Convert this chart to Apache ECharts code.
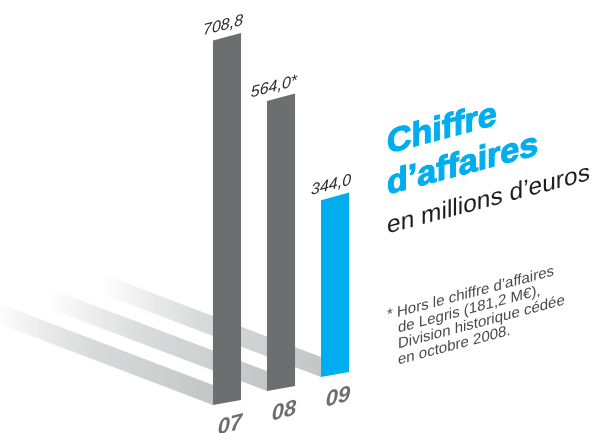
<!DOCTYPE html>
<html><head><meta charset="utf-8">
<script src="https://cdn.jsdelivr.net/npm/echarts@6/dist/echarts.min.js"></script>
<style>html,body{margin:0;padding:0;background:#fff}#c{width:598px;height:433px}</style>
</head><body><div id="c"></div>
<script>
const categories = ['07', '08', '09'];
const values = [708.8, 564.0, 344.0];
const valueLabels = ['708,8', '564,0*', '344,0'];
const titleLines = ['Chiffre', 'd\u2019affaires'];
const subtitle = 'en millions d\u2019euros';
const noteLines = ['* Hors le chiffre d\u2019affaires', 'de Legris (181,2 M\u20ac),', 'Division historique c\u00e9d\u00e9e', 'en octobre 2008.'];

const GRAY = '#6d6e70', BLUE = '#00aeef';
const barColors = [GRAY, GRAY, BLUE];
const SKEW = Math.atan(0.265);
const FLOOR_STEP = 14;
const TOP_SLOPE = 0.27, BOTTOM_SLOPE = 0.18, BAND_SLOPE = 0.38, BAND_H = 20, BAND_LEN = 220;
const FONT = '"Liberation Sans", Arial, sans-serif';
const BASE_K = 0.17; // middle-to-baseline offset (em)

function geom(api) {
  const i = api.value(0), v = api.value(1);
  const base = api.coord([i, 0]), top = api.coord([i, v]);
  const bw = api.size([1, 0])[0] * 0.52;
  const x0 = base[0] - bw / 2, x1 = base[0] + bw / 2;
  const f = FLOOR_STEP * i;
  const yb0 = base[1] - f, yb1 = yb0 - bw * BOTTOM_SLOPE;
  const yt0 = top[1] - f, yt1 = yt0 - bw * TOP_SLOPE;
  return { i, x0, x1, yb0, yb1, yt0, yt1, cx: base[0] };
}

function skewText(text, x, baseline, size, weight, color, extra) {
  return {
    type: 'text', x: x, y: baseline - BASE_K * size, skewY: SKEW,
    style: Object.assign({ text: text, font: weight + ' ' + size + 'px ' + FONT, fill: color, textAlign: 'left', textVerticalAlign: 'middle' }, extra || {})
  };
}

const data = values.map((v, i) => [i, v]);
const chart = echarts.init(document.getElementById('c'), null, { renderer: 'canvas' });
chart.setOption({
  animation: false,
  grid: { left: 200, width: 162, top: 4, bottom: 28 },
  xAxis: { type: 'category', data: categories, show: false },
  yAxis: { type: 'value', min: 0, max: 780, show: false },
  series: [
    {
      type: 'custom', clip: false, silent: true, z: 1,
      data: data,
      renderItem: function (params, api) {
        const g = geom(api);
        const L = BAND_LEN;
        return {
          type: 'polygon',
          shape: { points: [[g.x0, g.yb0], [g.x0, g.yb0 - BAND_H], [g.x0 - L, g.yb0 - BAND_H - BAND_SLOPE * L], [g.x0 - L, g.yb0 - BAND_SLOPE * L]] },
          style: {
            fill: {
              type: 'linear', x: g.x0 - L, y: 0, x2: g.x0, y2: 0, global: true,
              colorStops: [
                { offset: 0, color: 'rgba(208,209,211,0)' },
                { offset: 0.45, color: 'rgba(210,211,213,0.85)' },
                { offset: 1, color: '#c4c5c7' }
              ]
            }
          }
        };
      }
    },
    {
      type: 'custom', clip: false, silent: true, z: 2,
      data: data,
      renderItem: function (params, api) {
        const g = geom(api);
        return {
          type: 'group',
          children: [
            {
              type: 'polygon',
              shape: { points: [[g.x0, g.yt0], [g.x1, g.yt1], [g.x1, g.yb1], [g.x0, g.yb0]] },
              style: { fill: barColors[g.i] }
            },
            {
              type: 'text', x: g.x1 + 2, y: g.yt1 - 10 - BASE_K * 16, skewY: SKEW,
              style: { text: valueLabels[g.i], font: 'italic 16px ' + FONT, fill: '#2b2b2b', textAlign: 'right', textVerticalAlign: 'middle' }
            },
            {
              type: 'text', x: g.cx + 3, y: (g.yb0 + g.yb1) / 2 + 23, skewY: SKEW,
              style: { text: categories[g.i], font: 'italic bold 22px ' + FONT, fill: GRAY, textAlign: 'center', textVerticalAlign: 'middle' }
            }
          ]
        };
      }
    }
  ],
  graphic: [
    skewText(titleLines[0], 387, 150, 34, 'bold', BLUE, { stroke: BLUE, lineWidth: 1.2 }),
    skewText(titleLines[1], 387, 191, 34, 'bold', BLUE, { stroke: BLUE, lineWidth: 1.2 }),
    skewText(subtitle, 387, 231, 24.5, 'normal', '#1e1e1e'),
    skewText(noteLines[0], 387, 318, 15, 'normal', '#4a4a4a'),
    skewText(noteLines[1], 398, 331, 15, 'normal', '#4a4a4a'),
    skewText(noteLines[2], 398, 347, 15, 'normal', '#4a4a4a'),
    skewText(noteLines[3], 398, 363, 15, 'normal', '#4a4a4a')
  ]
});
</script>
</body></html>
